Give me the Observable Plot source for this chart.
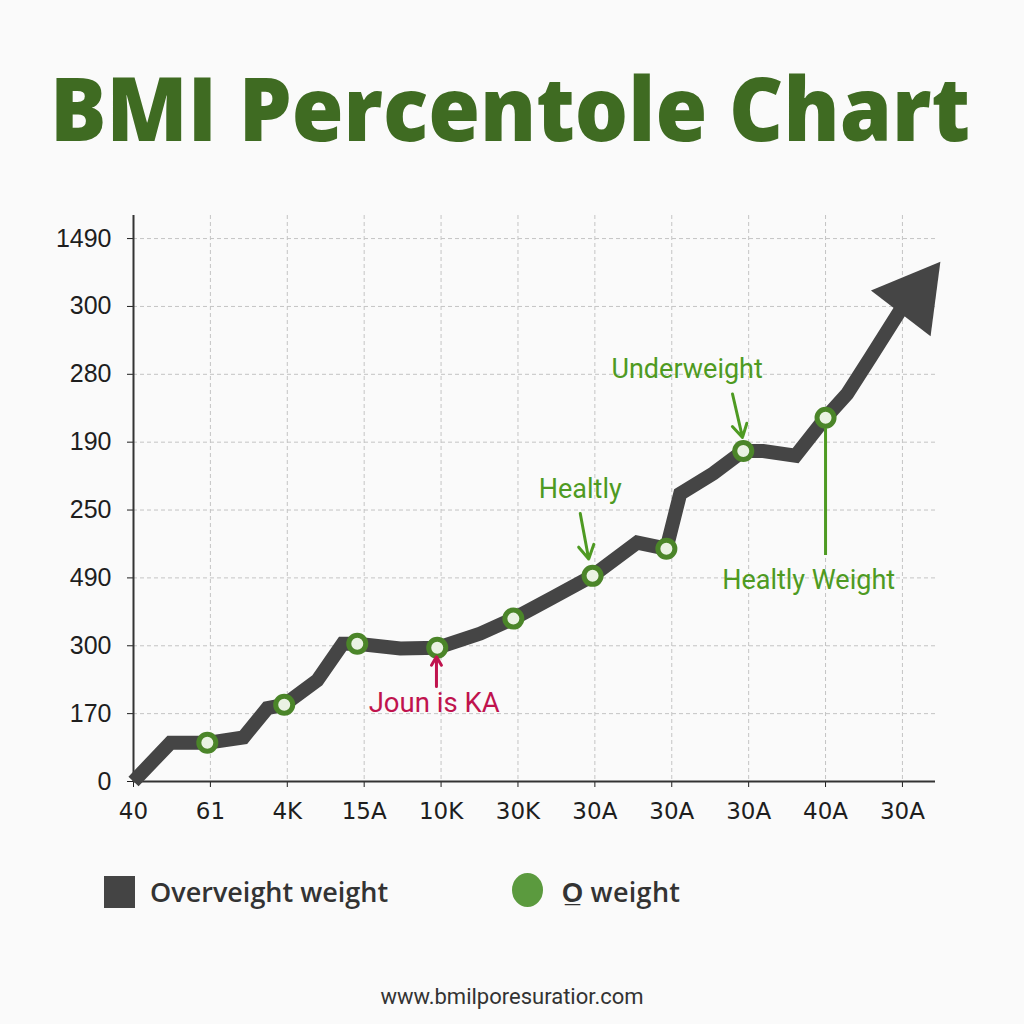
<!DOCTYPE html>
<html><head><meta charset="utf-8">
<script src="https://cdn.jsdelivr.net/npm/d3@7"></script>
<script src="https://cdn.jsdelivr.net/npm/@observablehq/plot@0.6"></script>
<style>
body{margin:0;background:#fafafa;}
#page{position:relative;width:1024px;height:1024px;background:#fafafa;overflow:hidden;}
#title{position:absolute;left:0;top:0;}
#chart{position:absolute;left:0;top:180px;}
.lg{position:absolute;font-family:"Open Sans",sans-serif;font-weight:600;font-size:27px;color:#333;line-height:32px;}
#sq{position:absolute;left:104px;top:876px;width:31px;height:32px;background:#444;}
#gc{position:absolute;left:512px;top:873px;width:31px;height:34px;border-radius:50%;background:#5b9a3e;}
#foot{position:absolute;left:0;width:1024px;top:984px;text-align:center;font-family:Roboto,sans-serif;font-size:22px;color:#333;}
</style></head><body>
<div id="page">
<svg id="title" width="1024" height="180"><text x="510" y="141" text-anchor="middle" textLength="920" lengthAdjust="spacingAndGlyphs" font-family="Open Sans" font-weight="800" font-size="88" fill="#3f6b22">BMI Percentole Chart</text></svg>
<div id="chart"></div>
<div id="sq"></div><div class="lg" style="left:150px;top:876px;">Overveight weight</div>
<div id="gc"></div><div class="lg" style="left:562px;top:876px;letter-spacing:0.3px;">O̲ weight</div>
<div id="foot">www.bmilporesuratior.com</div>
</div>
<script>
const xLabels = ["40","61","4K","15A","10K","30K","30A","30A","30A","40A","30A"];
const yLabels = ["0","170","300","490","250","190","280","300","1490"];

const curveX = [0,0.48,0.96,1.43,1.74,1.96,2.39,2.72,2.91,3.47,3.95,4.51,4.94,5.45,5.97,6.55,6.93,7.11,7.54,7.93,8.19,8.61,9.00,9.28,9.58,9.97];
const curveY = [0,0.57,0.57,0.65,1.08,1.13,1.49,2.03,2.03,1.96,1.97,2.18,2.40,2.71,3.03,3.52,3.43,4.24,4.54,4.87,4.87,4.80,5.36,5.71,6.24,6.94];

const markerX = [0.96,1.96,2.91,3.95,4.94,5.97,6.93,7.93,9.00];
const markerY = [0.57,1.13,2.03,1.97,2.40,3.03,3.43,4.87,5.36];

const headX = [10.15];
const headY = [7.15];
const headAngle = 37.5;

const greenNotes = ["Underweight","Healtly","Healtly Weight"];
const greenNoteX = [7.20,5.81,8.78];
const greenNoteY = [6.07,4.30,2.96];
const redNotes = ["Joun is KA"];
const redNoteX = [3.91];
const redNoteY = [1.15];

const arrowX1 = [7.79,5.81];
const arrowY1 = [5.71,3.95];
const arrowX2 = [7.92,5.92];
const arrowY2 = [5.07,3.28];
const redArrowX = [3.94], redArrowY1 = [1.40], redArrowY2 = [1.84];
const leaderX = [9.00], leaderY1 = [3.33], leaderY2 = [5.20];

const green = "#4e9a22", dark = "#454545", red = "#c0134e";
const idx = a => d3.range(a.length);

const plot = Plot.plot({
  width: 1024, height: 660,
  marginLeft: 133, marginRight: 89, marginTop: 35, marginBottom: 59,
  x: {domain: [0, 10.43]},
  y: {domain: [0, 8.34]},
  style: {background: "transparent", fontFamily: "DejaVu Sans", fontSize: "22px", color: "#1e1e1e"},
  marks: [
    Plot.gridX(d3.range(1, 11), {stroke: "#c4c4c4", strokeOpacity: 1, strokeWidth: 1, strokeDasharray: "4,3"}),
    Plot.gridY(d3.range(1, 9), {stroke: "#c4c4c4", strokeOpacity: 1, strokeWidth: 1, strokeDasharray: "4,3"}),
    Plot.axisX(d3.range(11), {tickFormat: i => xLabels[i], tickSize: 6, tickPadding: 15, label: null, fontFamily: "DejaVu Sans", fontSize: 23}),
    Plot.axisY(d3.range(9), {tickFormat: i => yLabels[i], tickSize: 6, tickPadding: 16, label: null, fontFamily: "Liberation Sans", fontSize: 25}),
    Plot.ruleX([0], {y1: 0, y2: 8.34, stroke: "#333", strokeWidth: 2}),
    Plot.ruleY([0], {x1: 0, x2: 10.43, stroke: "#333", strokeWidth: 2}),
    Plot.line(idx(curveX), {x: i => curveX[i], y: i => curveY[i], stroke: dark, strokeWidth: 14, strokeLinejoin: "miter", strokeMiterlimit: 3, strokeLinecap: "butt"}),
    Plot.dot(idx(headX), {x: i => headX[i], y: i => headY[i], symbol: "triangle", r: 27.9, rotate: headAngle, fill: dark, stroke: "none"}),
    Plot.dot(idx(markerX), {x: i => markerX[i], y: i => markerY[i], r: 8.5, stroke: "#4b8529", strokeWidth: 5, fill: "#eaf2e3"}),
    Plot.arrow(idx(arrowX1), {x1: i => arrowX1[i], y1: i => arrowY1[i], x2: i => arrowX2[i], y2: i => arrowY2[i], stroke: green, strokeWidth: 3, headLength: 12}),
    Plot.ruleX(idx(leaderX), {x: i => leaderX[i], y1: i => leaderY1[i], y2: i => leaderY2[i], stroke: green, strokeWidth: 3}),
    Plot.arrow(idx(redArrowX), {x1: i => redArrowX[i], y1: i => redArrowY1[i], x2: i => redArrowX[i], y2: i => redArrowY2[i], stroke: red, strokeWidth: 3, headLength: 10}),
    Plot.text(idx(greenNotes), {x: i => greenNoteX[i], y: i => greenNoteY[i], text: i => greenNotes[i], fill: green, fontSize: 27, fontFamily: "Roboto"}),
    Plot.text(idx(redNotes), {x: i => redNoteX[i], y: i => redNoteY[i], text: i => redNotes[i], fill: red, fontSize: 27.5, fontFamily: "Roboto"})
  ]
});
document.getElementById("chart").appendChild(plot);
</script>
</body></html>
